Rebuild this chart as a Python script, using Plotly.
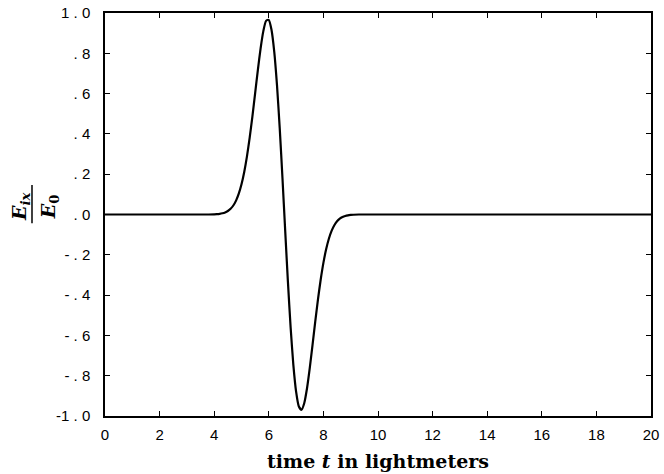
import plotly.graph_objects as go

# time in lightmeters
time_t = [0.0, 1.0, 2.0, 3.0, 3.5, 3.8,
          4.0, 4.1, 4.2, 4.3, 4.4, 4.5, 4.6, 4.7, 4.8, 4.9,
          5.0, 5.1, 5.2, 5.3, 5.4, 5.5, 5.6, 5.7, 5.8, 5.9,
          6.0, 6.1, 6.2, 6.3, 6.4, 6.5, 6.6, 6.7, 6.8, 6.9,
          7.0, 7.1, 7.2, 7.3, 7.4, 7.5, 7.6, 7.7, 7.8, 7.9,
          8.0, 8.1, 8.2, 8.3, 8.4, 8.5, 8.6, 8.7, 8.8, 8.9,
          9.0, 9.1, 9.3, 9.6, 10.0, 12.0, 14.0, 16.0, 18.0, 20.0]
# normalised field E_ix / E_0
e_ratio = [0.0, 0.0, 0.0, 0.0, 0.0, 0.0,
           0.0009, 0.0018, 0.0033, 0.0059, 0.0102, 0.0171, 0.0281, 0.0446, 0.0690, 0.1032,
           0.1500, 0.2113, 0.2884, 0.3813, 0.4874, 0.6023, 0.7182, 0.8248, 0.9101, 0.9609,
           0.9657, 0.9158, 0.8070, 0.6418, 0.4287, 0.1824, -0.0786, -0.3332, -0.5616, -0.7475,
           -0.8794, -0.9527, -0.9691, -0.9353, -0.8624, -0.7627, -0.6492, -0.5327, -0.4221, -0.3239,
           -0.2401, -0.1727, -0.1203, -0.0813, -0.0533, -0.0339, -0.0210, -0.0126, -0.0073, -0.0041,
           -0.0023, -0.0012, 0.0, 0.0, 0.0, 0.0, 0.0, 0.0, 0.0, 0.0]

x_ticks = [0, 2, 4, 6, 8, 10, 12, 14, 16, 18, 20]
x_tick_text = ["0", "2", "4", "6", "8", "10", "12", "14", "16", "18", "20"]
y_ticks = [1.0, 0.8, 0.6, 0.4, 0.2, 0.0, -0.2, -0.4, -0.6, -0.8, -1.0]
y_tick_text = ["1 . 0", ". 8", ". 6", ". 4", ". 2", ". 0",
               "- . 2", "- . 4", "- . 6", "- . 8", "-1 . 0"]

fig = go.Figure()
fig.add_trace(go.Scatter(x=time_t, y=e_ratio, mode="lines",
                         line=dict(color="black", width=2.2, shape="spline", smoothing=0.6),
                         showlegend=False, hoverinfo="skip"))

tick_font = dict(family="Liberation Sans, Arial, sans-serif", size=15, color="black")
axis_common = dict(showgrid=False, zeroline=False, showline=True, linecolor="black",
                   linewidth=1.5, mirror="allticks", ticks="inside", ticklen=5,
                   tickwidth=1.2, tickcolor="black", tickfont=tick_font)

fig.update_xaxes(range=[0, 20], tickmode="array", tickvals=x_ticks, ticktext=x_tick_text,
                 title=dict(text="<b>time <i>t</i> in lightmeters</b>",
                            font=dict(family="DejaVu Serif, serif", size=19, color="black"),
                            standoff=13),
                 ticklabelstandoff=4, **axis_common)
fig.update_yaxes(range=[-1, 1], tickmode="array", tickvals=y_ticks, ticktext=y_tick_text,
                 ticklabelstandoff=10, **axis_common)

frac_font = dict(family="DejaVu Serif, serif", size=19, color="black")
fig.add_annotation(xref="paper", yref="paper", x=-0.1545, y=0.520,
                   text="<b><i>E</i><sub><i>ix</i></sub></b>", textangle=-90,
                   showarrow=False, font=frac_font, xanchor="center", yanchor="middle")
fig.add_annotation(xref="paper", yref="paper", x=-0.1010, y=0.520,
                   text="<b><i>E</i><sub>0</sub></b>", textangle=-90,
                   showarrow=False, font=frac_font, xanchor="center", yanchor="middle")
fig.add_shape(type="line", xref="paper", yref="paper", x0=-0.1337, x1=-0.1337,
              y0=0.478, y1=0.573, line=dict(color="black", width=1.5))

fig.update_layout(width=664, height=474, margin=dict(l=105, r=13, t=13, b=58, autoexpand=False),
                  plot_bgcolor="white", paper_bgcolor="white")

fig.write_html("out.html")
